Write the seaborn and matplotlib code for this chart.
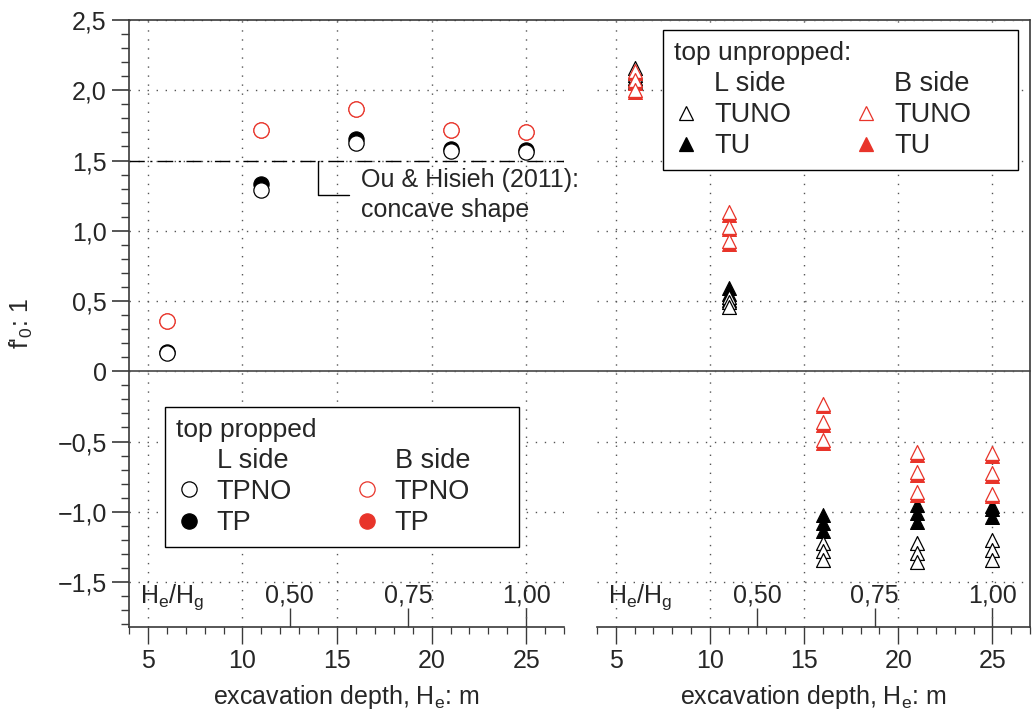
import numpy as np
import pandas as pd
import matplotlib
matplotlib.use("Agg")
import matplotlib.pyplot as plt
from matplotlib.lines import Line2D
from matplotlib.ticker import MultipleLocator, NullLocator, FixedLocator
import seaborn as sns

# ---------------- data ----------------
depth = [6, 11, 16, 21, 25]
tpno_L = [0.13, 1.29, 1.625, 1.57, 1.56]
tp_L = [0.14, 1.33, 1.65, 1.585, 1.575]
tpno_B = [0.36, 1.715, 1.87, 1.72, 1.70]
tp_B = [0.36, 1.715, 1.87, 1.72, 1.70]

tri_depth = [6, 6, 6, 11, 11, 11, 16, 16, 16, 21, 21, 21, 25, 25, 25]
tuno_L = [2.16, 2.11, 2.07, 0.53, 0.49, 0.46, -1.22, -1.28, -1.34,
          -1.225, -1.295, -1.355, -1.20, -1.27, -1.34]
tu_L = [2.12, 2.09, 2.06, 0.59, 0.55, 0.51, -1.02, -1.08, -1.14,
        -0.955, -1.01, -1.07, -0.96, -0.98, -1.035]
tuno_B = [2.14, 2.075, 2.005, 1.135, 1.03, 0.925, -0.23, -0.36, -0.49,
          -0.575, -0.715, -0.86, -0.585, -0.725, -0.87]
tu_B = [2.12, 2.055, 1.985, 1.115, 1.01, 0.905, -0.25, -0.38, -0.51,
        -0.595, -0.735, -0.88, -0.605, -0.745, -0.89]

ou_hsieh = 1.5
Hg = 25.0
ratio_ticks = [0.50, 0.75, 1.00]
ratio_labels = ["0,50", "0,75", "1,00"]
x_ticks = [5, 10, 15, 20, 25]
y_ticks = [-1.5, -1.0, -0.5, 0.0, 0.5, 1.0, 1.5, 2.0, 2.5]
y_labels = ["\u22121,5", "\u22121,0", "\u22120,5", "0", "0,5", "1,0", "1,5", "2,0", "2,5"]

# ---------------- style ----------------
sns.set_style("ticks")
plt.rcParams["font.family"] = ["Liberation Sans", "DejaVu Sans"]
plt.rcParams["mathtext.fontset"] = "custom"
plt.rcParams["mathtext.rm"] = "Liberation Sans"
plt.rcParams["mathtext.it"] = "Liberation Sans:italic"
plt.rcParams["axes.unicode_minus"] = True

RED = "#e8342a"
SPINE = "#3a3a3a"
FS = 18

W, H = 1036, 714
fig = plt.figure(figsize=(W / 100, H / 100), dpi=100)
top_px, bot_px = 20, 627
ax1 = fig.add_axes([129 / W, 1 - bot_px / H, (564 - 129) / W, (bot_px - top_px) / H])
ax2 = fig.add_axes([597 / W, 1 - bot_px / H, (1030 - 597) / W, (bot_px - top_px) / H])

ms_c = 11 ** 2
ms_t = 10 ** 2

# ---------------- left panel: top propped ----------------
sns.scatterplot(x=depth, y=tp_B, ax=ax1, marker="o", s=ms_c, color=RED,
                edgecolor=RED, linewidth=0.8, zorder=3, legend=False)
sns.scatterplot(x=depth, y=tpno_B, ax=ax1, marker="o", s=ms_c, facecolor="white",
                edgecolor=RED, linewidth=0.9, zorder=4, legend=False)
sns.scatterplot(x=depth, y=tp_L, ax=ax1, marker="o", s=ms_c, color="black",
                edgecolor="black", linewidth=0.8, zorder=5, legend=False)
sns.scatterplot(x=depth, y=tpno_L, ax=ax1, marker="o", s=ms_c, facecolor="white",
                edgecolor="black", linewidth=0.9, zorder=6, legend=False)

# ---------------- right panel: top unpropped ----------------
sns.scatterplot(x=tri_depth, y=tu_L, ax=ax2, marker="^", s=ms_t, color="black",
                edgecolor="black", linewidth=0.8, zorder=3, legend=False)
sns.scatterplot(x=tri_depth, y=tuno_L, ax=ax2, marker="^", s=ms_t, facecolor="white",
                edgecolor="black", linewidth=0.9, zorder=4, legend=False)
sns.scatterplot(x=tri_depth, y=tu_B, ax=ax2, marker="^", s=ms_t, color=RED,
                edgecolor=RED, linewidth=0.8, zorder=5, legend=False)
sns.scatterplot(x=tri_depth, y=tuno_B, ax=ax2, marker="^", s=ms_t, facecolor="white",
                edgecolor=RED, linewidth=0.9, zorder=6, legend=False)

# ---------------- axes formatting ----------------
for ax in (ax1, ax2):
    ax.set_xlim(4, 27)
    ax.set_ylim(-1.82, 2.5)
    ax.set_facecolor("none")
    ax.xaxis.set_major_locator(FixedLocator(x_ticks))
    ax.xaxis.set_minor_locator(MultipleLocator(1))
    ax.set_yticks(y_ticks)
    ax.yaxis.set_minor_locator(MultipleLocator(0.1))
    ax.tick_params(axis="x", which="major", direction="out", length=12, width=1.0,
                   color=SPINE, labelsize=FS, pad=4)
    ax.tick_params(axis="x", which="minor", direction="out", length=5, width=0.9, color=SPINE)
    ax.grid(True, which="major", linestyle=(0, (1, 5.5)), color="#555555", linewidth=1.0)
    ax.set_xlabel(r"excavation depth, H$_\mathrm{e}$: m", fontsize=FS, labelpad=7)
    for s in ax.spines.values():
        s.set_color(SPINE)
        s.set_linewidth(1.2)
    ax.spines["top"].set_visible(False)

    sec = ax.secondary_xaxis(0.0, functions=(lambda h: h / Hg, lambda r: r * Hg))
    sec.set_xticks(ratio_ticks)
    sec.set_xticklabels(ratio_labels)
    sec.xaxis.set_minor_locator(NullLocator())
    sec.xaxis.set_ticks_position("top")
    sec.tick_params(axis="x", which="major", direction="out", length=14, width=1.0,
                    color=SPINE, labelsize=FS, pad=0, top=True, bottom=False,
                    labeltop=True, labelbottom=False)
    for s in sec.spines.values():
        s.set_visible(False)
    ax.text(0.025, 0.050, r"H$_\mathrm{e}$/H$_\mathrm{g}$", transform=ax.transAxes,
            fontsize=FS, ha="left", va="center")

ax1.set_yticklabels(y_labels)
ax1.tick_params(axis="y", which="major", direction="out", length=12, width=1.2,
                color=SPINE, labelsize=FS, pad=4)
ax1.tick_params(axis="y", which="minor", direction="out", length=5.5, width=1.0, color=SPINE)
ax1.spines["right"].set_visible(False)
ax1.set_ylabel(r"f'$_\mathrm{0}$: 1", fontsize=FS, labelpad=16)

ax2.tick_params(axis="y", which="both", left=False, labelleft=False)
ax2.spines["left"].set_visible(False)

# continuous top frame line and zero line across both panels
p1, p2 = ax1.get_position(), ax2.get_position()
span = (p2.x1 - p1.x0) / p1.width
ax1.axhline(2.5, xmin=0, xmax=span, color=SPINE, lw=1.2, clip_on=False, zorder=2)
ax1.axhline(0.0, xmin=0, xmax=span, color="#555555", lw=1.3, clip_on=False, zorder=2)

# Ou & Hsieh reference line
ax1.axhline(ou_hsieh, color="black", lw=1.0, dashes=(11, 4, 1.5, 4), zorder=2)
ax1.annotate("Ou & Hisieh (2011):\nconcave shape", xy=(14.0, ou_hsieh),
             xytext=(16.25, 1.257), fontsize=FS, ha="left", va="center",
             linespacing=1.3,
             arrowprops=dict(arrowstyle="-", color="black", lw=1.0,
                             connectionstyle="angle,angleA=0,angleB=90,rad=0",
                             shrinkA=6, shrinkB=0, relpos=(0, 0.5)))

# ---------------- legends ----------------
blank = Line2D([], [], ls="none", marker="")
def mk(marker, face, edge, ms):
    return Line2D([], [], ls="none", marker=marker, markersize=ms,
                  markerfacecolor=face, markeredgecolor=edge, markeredgewidth=0.9)

LFS = 19.5
leg_kw = dict(ncol=2, frameon=True, fancybox=False, edgecolor="black", framealpha=1,
              fontsize=LFS, title_fontsize=19, handlelength=0.95, handletextpad=0.55,
              columnspacing=2.3, labelspacing=0.2, borderpad=0.4, borderaxespad=0,
              alignment="left")
pad = "\u0020" * 5

h1 = [blank, mk("o", "white", "black", 11), mk("o", "black", "black", 11),
      blank, mk("o", "white", RED, 11), mk("o", RED, RED, 11)]
l1 = ["L side", "TPNO", "TP", "B side" + pad, "TPNO", "TP"]
leg1 = ax1.legend(h1, l1, title="top propped", loc="upper left",
                  bbox_to_anchor=(0.083, 0.362), **leg_kw)
leg1.get_frame().set_linewidth(1.0)

h2 = [blank, mk("^", "white", "black", 10), mk("^", "black", "black", 10),
      blank, mk("^", "white", RED, 10), mk("^", RED, RED, 10)]
l2 = ["L side", "TUNO", "TU", "B side" + pad, "TUNO", "TU"]
leg2 = ax2.legend(h2, l2, title="top unpropped:", loc="upper right",
                  bbox_to_anchor=(0.972, 0.983), **leg_kw)
leg2.get_frame().set_linewidth(1.0)

fig.savefig("out.png", dpi=100)
